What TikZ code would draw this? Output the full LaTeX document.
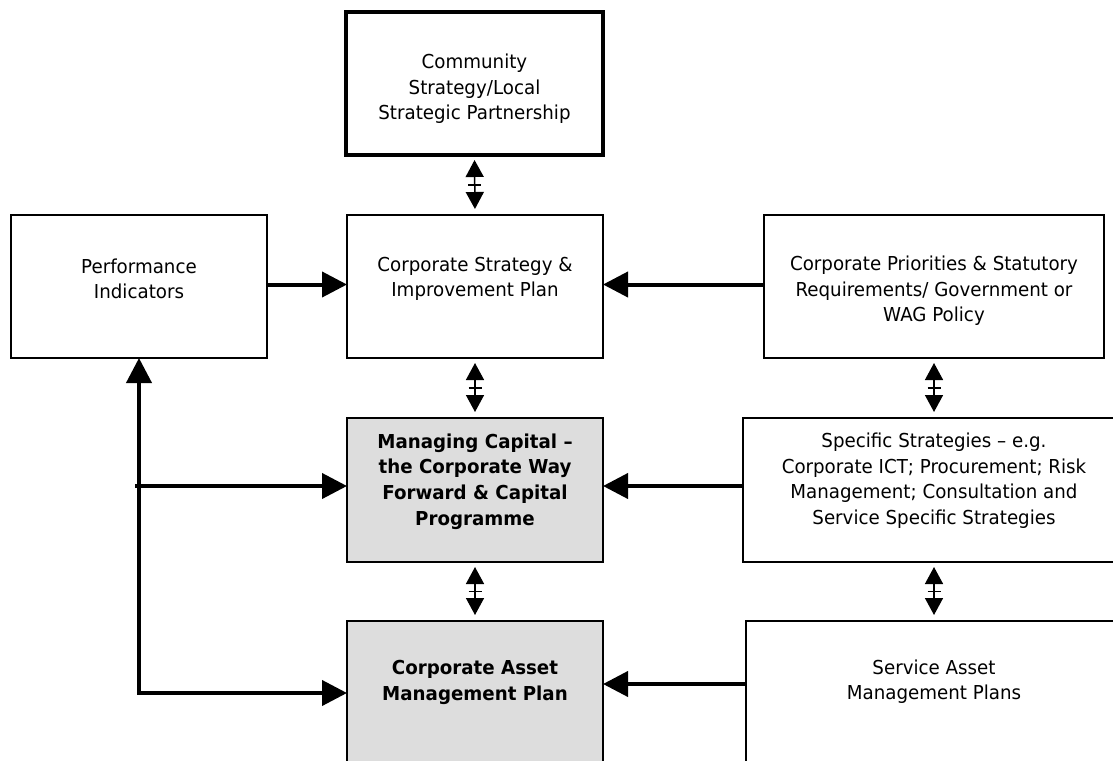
\documentclass[tikz,border=0pt]{standalone}
\usepackage{fontspec}
\setmainfont[FakeStretch=0.95]{DejaVu Sans}
\usetikzlibrary{arrows.meta,calc}
\definecolor{boxgray}{RGB}{221,221,221}
\tikzset{
	box/.style={draw=black, line width=2pt, fill=white, minimum width=256pt, minimum height=144pt, inner sep=0pt, outer sep=0pt},
	txt/.style={align=center, inner sep=0pt, font=\fontsize{19.2}{25.6}\selectfont},
	flow/.style={line width=4pt, -{Triangle[length=25pt,width=25pt]}},
	twoway/.style={line width=1.5pt, {Triangle[length=17pt,width=18pt]}-{Triangle[length=17pt,width=18pt]}, shorten <=5pt, shorten >=6pt},
}

\begin{document}
\begin{tikzpicture}[x=1pt, y=-1pt]
	\useasboundingbox (0,0) rectangle (1113,760);
	\clip (0,0) rectangle (1113,760);
	
	% Khung trên cùng (viền đậm)
	\node[box, line width=4.5pt, minimum width=257pt, minimum height=143pt] (comm) at (474.5, 83.5) {};
	\node[txt] at ([yshift=-5.5pt]comm.center) {Community\\Strategy/Local\\Strategic Partnership};
	
	% Hàng thứ nhất
	\node[box, minimum height=143pt] (perf) at (139, 286.5) {};
	\node[txt] at ([yshift=7.5pt]perf.center) {Performance\\Indicators};
	\node[box, minimum height=143pt] (corp) at (475, 286.5) {};
	\node[txt] at ([yshift=7.5pt]corp.center) {Corporate Strategy \&\\Improvement Plan};
	\node[box, minimum width=340pt, minimum height=143pt] (prio) at (934, 286.5) {};
	\node[txt] at ([yshift=-4.5pt]prio.center) {Corporate Priorities \& Statutory\\Requirements/ Government or\\WAG Policy};
	
	% Hàng thứ hai
	\node[box, fill=boxgray] (cap) at (475, 490) {};
	\node[txt, font=\fontsize{19.2}{25.6}\selectfont\bfseries] at ([yshift=8.5pt]cap.center) {Managing Capital --\\the Corporate Way\\Forward \& Capital\\Programme};
	\node[box, minimum width=382pt] (spec) at (934, 490) {};
	\node[txt] at ([yshift=9.5pt]spec.center) {Specific Strategies -- e.g.\\Corporate ICT; Procurement; Risk\\Management; Consultation and\\Service Specific Strategies};
	
	% Hàng thứ ba
	\node[box, fill=boxgray] (camp) at (475, 693) {};
	\node[txt, font=\fontsize{19.2}{25.6}\selectfont\bfseries] at ([yshift=10.5pt]camp.center) {Corporate Asset\\Management Plan};
	\node[box, minimum width=376pt] (samp) at (934, 693) {};
	\node[txt] at ([yshift=11.5pt]samp.center) {Service Asset\\Management Plans};
	
	% Mũi tên hai chiều giữa các hàng
	\foreach \a/\b in {comm/corp, corp/cap, cap/camp, prio/spec, spec/samp} {
		\draw[twoway] (\a.south) -- (\b.north);
		\draw[line width=1.5pt] ($(\a.south)!.5!(\b.north)$) +(-6.5,0) -- +(6.5,0);
	}
	
	% Mũi tên ngang
	\draw[flow] ([yshift=2pt]perf.east) -- ([yshift=2pt]corp.west);
	\draw[flow] ([yshift=2pt]prio.west) -- ([yshift=2pt]corp.east);
	\draw[flow] ([yshift=4pt]spec.west) -- ([yshift=4pt]cap.east);
	\draw[flow] ([yshift=9pt]samp.west) -- ([yshift=9pt]camp.east);
	
	% Đường bên trái
	\coordinate (capin) at ([yshift=4pt]cap.west);
	\draw[flow] ([xshift=-4pt]capin -| perf.south) -- (capin);
	\draw[flow, {Triangle[length=25pt,width=25pt]}-{Triangle[length=25pt,width=25pt]}] (perf.south) -- (perf.south |- camp.west) -- (camp.west);
\end{tikzpicture}
\end{document}
